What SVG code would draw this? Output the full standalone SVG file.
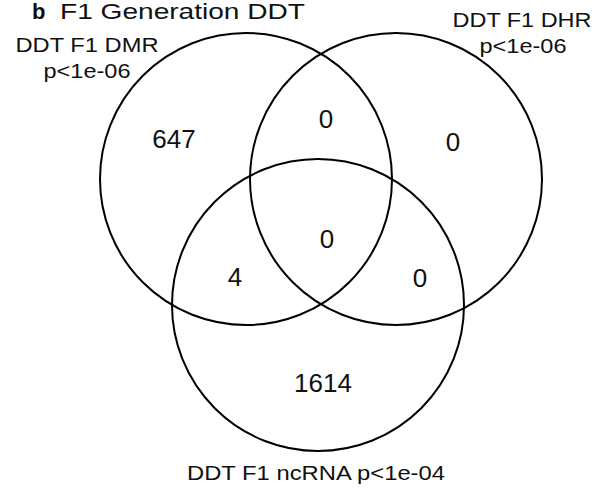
<svg xmlns="http://www.w3.org/2000/svg" width="608" height="490" viewBox="0 0 608 490">
<style>
.set{fill:none;stroke:#000;stroke-width:2}
.lbl{font-family:"Liberation Sans",Arial,sans-serif;font-size:21px;fill:#111;text-anchor:middle}
.num{font-family:"Liberation Sans",Arial,sans-serif;font-size:26px;fill:#111;text-anchor:middle}
.ttl{font-family:"Liberation Sans",Arial,sans-serif;font-size:22px;fill:#111}
</style>
<rect width="608" height="490" fill="#fff"/>
<g id="title">
<text class="ttl" x="32" y="19" font-weight="bold">b</text>
<text class="ttl" x="60" y="19" textLength="245" lengthAdjust="spacingAndGlyphs">F1 Generation DDT</text>
</g>
<g id="connectors"></g>
<g id="set-dmr">
<circle class="set" cx="246" cy="179" r="146"/>
<text class="lbl" x="87" y="52" textLength="143" lengthAdjust="spacingAndGlyphs">DDT F1 DMR</text>
<text class="lbl" x="87" y="78" textLength="87" lengthAdjust="spacingAndGlyphs">p&lt;1e-06</text>
</g>
<g id="set-dhr">
<circle class="set" cx="396" cy="179" r="146"/>
<text class="lbl" x="522" y="27" textLength="139" lengthAdjust="spacingAndGlyphs">DDT F1 DHR</text>
<text class="lbl" x="523" y="53" textLength="87" lengthAdjust="spacingAndGlyphs">p&lt;1e-06</text>
</g>
<g id="set-ncrna">
<circle class="set" cx="318" cy="305" r="146"/>
<text class="lbl" x="316" y="480" textLength="258" lengthAdjust="spacingAndGlyphs">DDT F1 ncRNA p&lt;1e-04</text>
</g>
<g id="counts">
<text class="num" x="174" y="148">647</text>
<text class="num" x="326" y="128">0</text>
<text class="num" x="453" y="151">0</text>
<text class="num" x="327" y="248">0</text>
<text class="num" x="235" y="286">4</text>
<text class="num" x="420" y="287">0</text>
<text class="num" x="323" y="392">1614</text>
</g>
</svg>
